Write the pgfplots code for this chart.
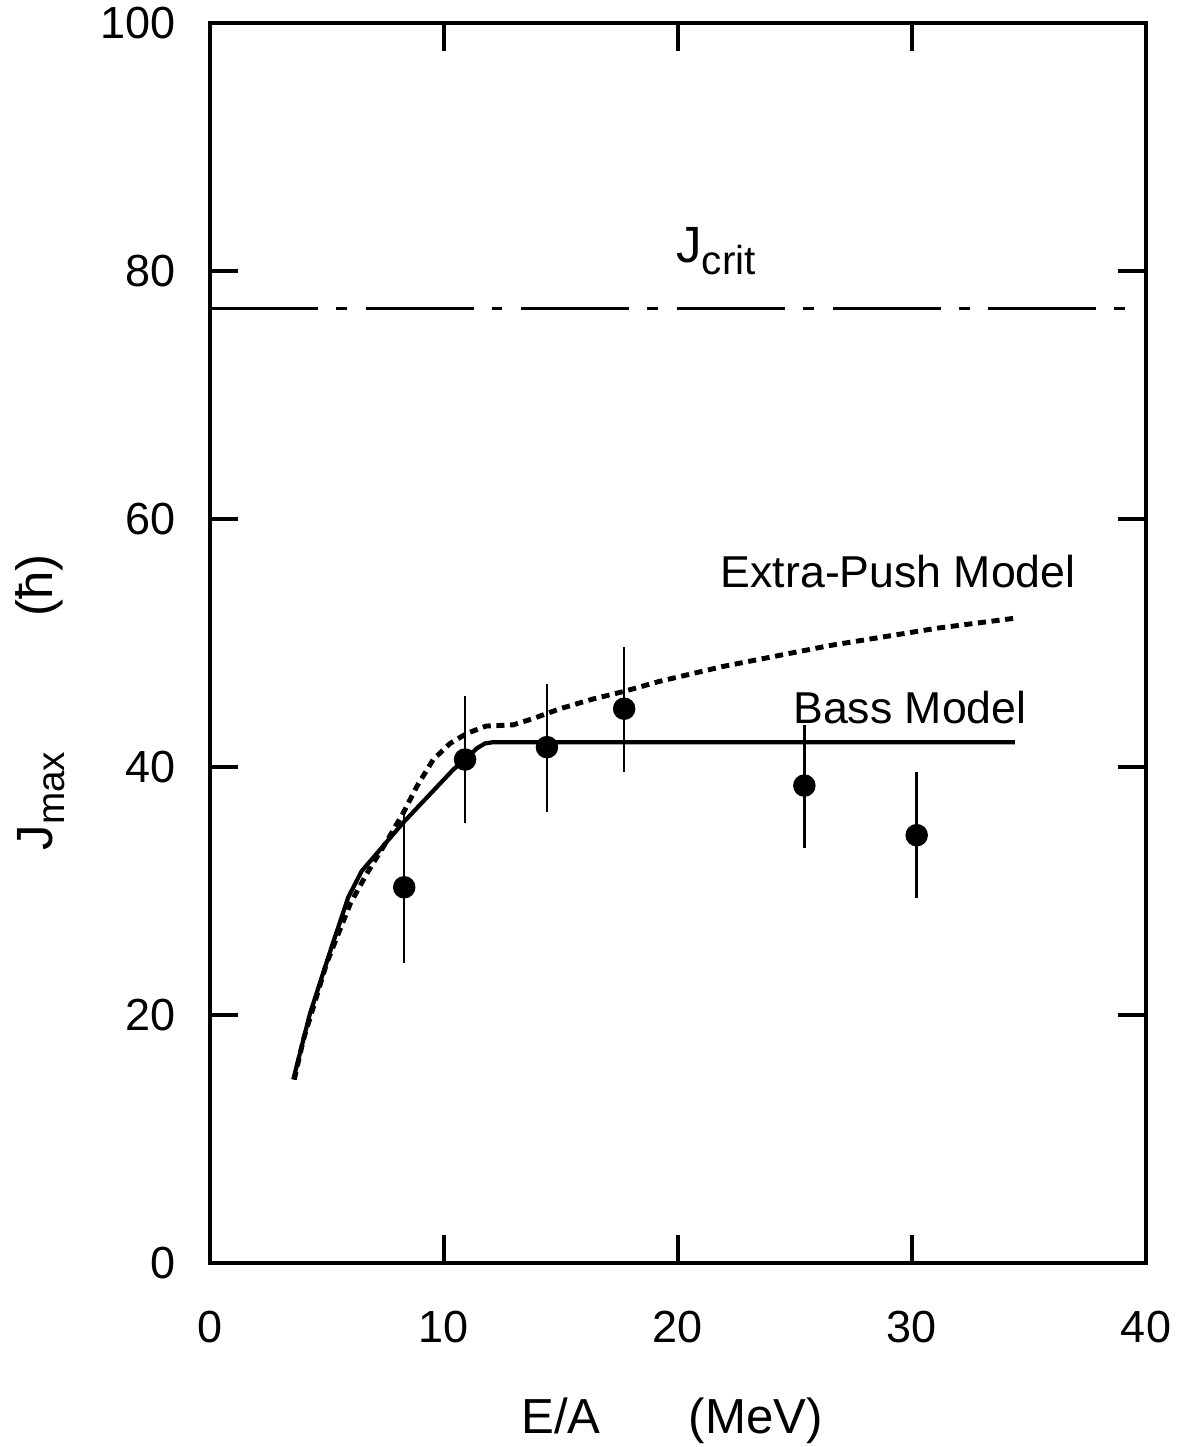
\documentclass[border=0pt]{standalone}
\usepackage{fontspec}
\setmainfont{Liberation Sans}
\usepackage{pgfplots}
\pgfplotsset{compat=1.18}
\begin{document}
\begin{tikzpicture}
\begin{axis}[
  name=ax,
  width=9.36cm, height=12.40cm, scale only axis,
  xmin=0, xmax=40, ymin=0, ymax=100,
  xtick={0,10,20,30,40}, ytick={0,20,40,60,80,100},
  tick align=inside, major tick length=0.28cm,
  axis line style={line width=1.2pt},
  every tick/.style={black, line width=0.9pt},
  /pgf/number format/assume math mode=true,
  tick label style={font=\fontsize{12.8}{14}\selectfont},
  xticklabel shift=0.36cm, yticklabel shift=0.22cm,
  xlabel={E/A\hspace{0.88cm}(MeV)},
  xlabel style={at={(axis description cs:0.4936,-0.1371)}, anchor=base, font=\fontsize{14}{16}\selectfont},
  ylabel={J\raisebox{-0.45ex}{\fontsize{11}{12}\selectfont max}\hspace{1.35cm}(ħ)},
  ylabel style={at={(axis description cs:-0.1816,0.452)}, anchor=center, font=\fontsize{14.5}{16}\selectfont},
]
% J_crit
\addplot[black, line width=0.9pt, dash pattern=on 30.7pt off 5.1pt on 3.1pt off 5.4pt] coordinates {(0,77) (40,77)};
% Bass model
\addplot[black, line width=1.2pt] coordinates {
(3.56,14.8) (4.27,20.1) (5.2,25.5) (5.91,29.5) (6.48,31.6) (8.25,35.5) (10.4,39.8) (10.9,40.6) (11.4,41.5) (11.75,41.9) (12.1,42.0) (34.4,42.0)};
% Extra-push model
\addplot[black, line width=1.4pt, dash pattern=on 2.3pt off 1.6pt] coordinates {
(3.6,14.8) (3.99,18.0) (4.99,24.2) (6.0,29.0) (6.70,31.4) (7.55,34.0) (8.26,36.3) (8.83,38.4) (9.54,40.6) (10.26,41.9) (10.97,42.7) (11.8,43.3) (12.96,43.4) (13.8,43.9) (14.96,44.7) (16.4,45.5) (17.7,46.1) (19.2,46.9) (21.9,48.1) (26.5,49.8) (31.1,51.2) (34.4,52.0)};
% data
\addplot[only marks, mark=*, mark size=3pt, black,
  error bars/.cd, y dir=both, y explicit, error mark=none,
  error bar style={line width=0.7pt, black}]
  table[x=x, y=y, y error plus=ep, y error minus=em] {
x y ep em
8.3 30.3 5.9 6.1
10.9 40.6 5.1 5.1
14.4 41.6 5.1 5.2
17.7 44.7 5.0 5.1
25.4 38.5 4.9 5.0
30.2 34.5 5.1 5.1
};
\node[anchor=base west, font=\fontsize{14.5}{16}\selectfont, inner sep=0pt] at (axis cs:19.9,80.7) {J\raisebox{-0.45ex}{\fontsize{11.5}{12}\selectfont crit}};
\node[anchor=base west, font=\fontsize{12.7}{14}\selectfont, inner sep=0pt] at (axis cs:21.8,54.5) {Extra-Push Model};
\node[anchor=base west, font=\fontsize{12.7}{14}\selectfont, inner sep=0pt] at (axis cs:24.9,43.5) {Bass Model};
\end{axis}
\pgfresetboundingbox
\path[use as bounding box] ([shift={(-2.10cm,-1.84cm)}]ax.south west) rectangle ([shift={(0.34cm,0.23cm)}]ax.north east);
\end{tikzpicture}
\end{document}
